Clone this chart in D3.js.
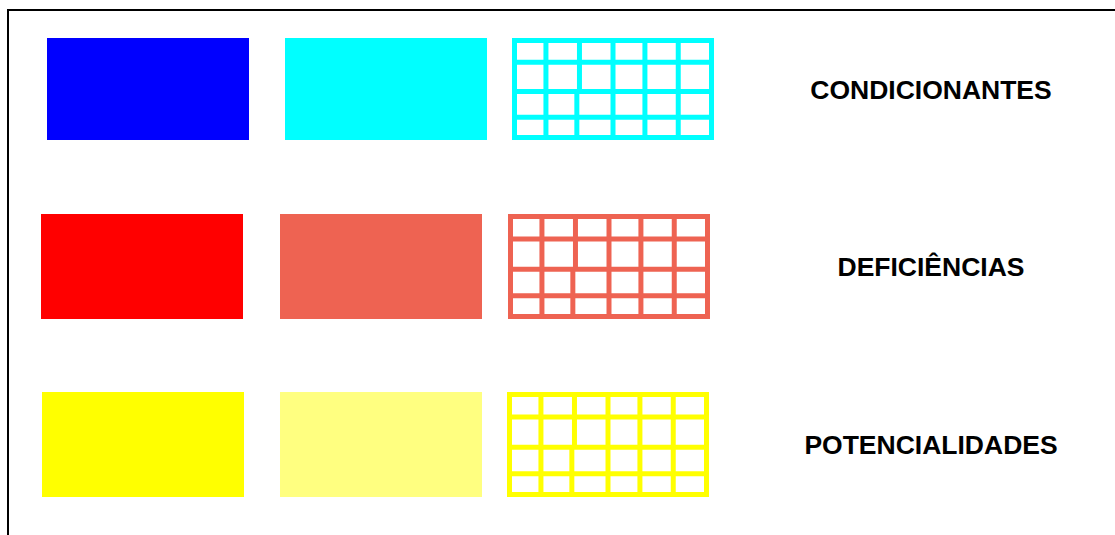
<!DOCTYPE html>
<html>
<head>
<meta charset="utf-8">
<script src="https://cdn.jsdelivr.net/npm/d3@7"></script>
<style>
  html, body { margin: 0; padding: 0; background: #ffffff; }
  svg { display: block; }
</style>
</head>
<body>
<svg id="chart" width="1115" height="535"></svg>
<script>
// ---- data ----
const categories = ["CONDICIONANTES", "DEFICIÊNCIAS", "POTENCIALIDADES"];
const solidColors = ["#0000FF", "#FF0000", "#FFFF00"];
const lightColors = ["#00FFFF", "#EE6352", "#FFFF80"];
const gridColors  = ["#00FFFF", "#EE6352", "#FFFF00"];
const swatchKinds = ["solid", "light", "grid"];
// grid pattern: inner line positions as fractions of the swatch
const gridColsTop = [0.168, 0.334, 0.5, 0.658, 0.823];
const gridColsBottom = [0.168, 0.321, 0.5, 0.658, 0.823];
const gridRows = [0.237, 0.525, 0.778];
const gridSplit = 0.525;

// ---- layout ----
const W = 1115, H = 535;
const svg = d3.select("#chart");

// frame (top + left)
svg.append("line").attr("x1", 7).attr("x2", W).attr("y1", 10).attr("y2", 10)
  .attr("stroke", "#000").attr("stroke-width", 2);
svg.append("line").attr("x1", 8).attr("x2", 8).attr("y1", 9).attr("y2", H)
  .attr("stroke", "#000").attr("stroke-width", 2);

const y = d3.scaleBand().domain(categories).range([38, 497]).paddingInner(0.414);
// per-row column positions (left edges) and widths
const colX = [
  {solid: 47, light: 285, grid: 512},
  {solid: 41, light: 280, grid: 508},
  {solid: 42, light: 280, grid: 507}
];
const rowY = [38, 214, 392];
const rowH = [102, 105, 105];
const swW = 202;

categories.forEach((cat, i) => {
  const g = svg.append("g");
  const top = rowY[i], h = rowH[i];
  // solid
  g.append("rect").attr("x", colX[i].solid).attr("y", top).attr("width", swW).attr("height", h)
    .attr("fill", solidColors[i]);
  // light
  g.append("rect").attr("x", colX[i].light).attr("y", top).attr("width", swW).attr("height", h)
    .attr("fill", lightColors[i]);
  // grid
  const gx = d3.scaleLinear().domain([0, 1]).range([colX[i].grid, colX[i].grid + swW]);
  const gy = d3.scaleLinear().domain([0, 1]).range([top, top + h]);
  const sw = 5;
  g.append("rect").attr("x", gx(0) + sw / 2).attr("y", gy(0) + sw / 2)
    .attr("width", swW - sw).attr("height", h - sw)
    .attr("fill", "none").attr("stroke", gridColors[i]).attr("stroke-width", sw);
  g.selectAll("line.h").data(gridRows).enter().append("line")
    .attr("x1", gx(0)).attr("x2", gx(1))
    .attr("y1", d => gy(d)).attr("y2", d => gy(d))
    .attr("stroke", gridColors[i]).attr("stroke-width", sw);
  g.selectAll("line.vt").data(gridColsTop).enter().append("line")
    .attr("x1", d => gx(d)).attr("x2", d => gx(d))
    .attr("y1", gy(0)).attr("y2", gy(gridSplit))
    .attr("stroke", gridColors[i]).attr("stroke-width", sw);
  g.selectAll("line.vb").data(gridColsBottom).enter().append("line")
    .attr("x1", d => gx(d)).attr("x2", d => gx(d))
    .attr("y1", gy(gridSplit)).attr("y2", gy(1))
    .attr("stroke", gridColors[i]).attr("stroke-width", sw);
  // label
  svg.append("text")
    .attr("x", 931)
    .attr("y", top + h / 2)
    .attr("dy", "0.36em")
    .attr("text-anchor", "middle")
    .attr("font-family", "'Liberation Sans', Arial, sans-serif")
    .attr("font-weight", "bold")
    .attr("font-size", "26.5px")
    .attr("fill", "#000")
    .text(cat);
});
</script>
</body>
</html>
